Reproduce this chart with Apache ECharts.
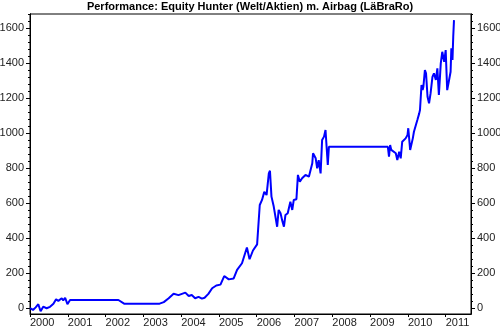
<!DOCTYPE html>
<html><head><meta charset="utf-8">
<script src="https://cdn.jsdelivr.net/npm/echarts@6/dist/echarts.min.js"></script>
<style>html,body{margin:0;padding:0;background:#fff}#c{width:500px;height:333px}</style>
</head><body><div id="c"></div>
<script>
const title = "Performance: Equity Hunter (Welt/Aktien) m. Airbag (LäBraRo)";
const years = [2000.00,2000.08,2000.15,2000.22,2000.28,2000.35,2000.40,2000.44,2000.53,2000.62,2000.69,2000.75,2000.84,2000.88,2000.93,2000.99,2001.06,2002.34,2002.49,2003.43,2003.54,2003.67,2003.80,2003.93,2004.11,2004.20,2004.28,2004.37,2004.46,2004.55,2004.62,2004.72,2004.82,2004.93,2005.04,2005.14,2005.26,2005.39,2005.48,2005.61,2005.74,2005.81,2005.90,2006.01,2006.08,2006.14,2006.20,2006.26,2006.32,2006.35,2006.39,2006.45,2006.54,2006.58,2006.63,2006.67,2006.72,2006.76,2006.82,2006.89,2006.94,2006.98,2007.05,2007.09,2007.14,2007.20,2007.29,2007.33,2007.38,2007.47,2007.49,2007.56,2007.60,2007.64,2007.69,2007.73,2007.78,2007.82,2007.85,2007.88,2007.91,2009.47,2009.50,2009.53,2009.56,2009.61,2009.68,2009.72,2009.77,2009.81,2009.85,2009.90,2009.94,2009.99,2010.01,2010.06,2010.09,2010.13,2010.16,2010.21,2010.25,2010.30,2010.32,2010.36,2010.39,2010.41,2010.45,2010.48,2010.52,2010.56,2010.60,2010.65,2010.69,2010.74,2010.78,2010.82,2010.87,2010.91,2010.96,2011.00,2011.04,2011.09,2011.13,2011.15,2011.18,2011.20,2011.22];
const values = [0,-10,5,23,-17,9,2,0,8,25,51,42,57,45,60,23,47,47,26,26,35,57,83,75,89,70,76,57,65,55,60,82,114,130,135,184,165,170,219,257,347,280,330,365,590,619,666,647,771,786,638,581,466,562,543,505,466,533,543,609,562,619,623,762,723,743,762,771,752,829,886,857,800,847,771,962,981,1019,1009,819,923,923,866,933,905,914,886,847,895,857,952,943,971,990,1029,905,895,971,1009,1000,1076,1114,1133,1276,1247,1266,1362,1343,1209,1171,1228,1323,1343,1305,1371,1219,1400,1466,1409,1476,1247,1305,1352,1486,1419,1552,1647];
const yTicks = [0,200,400,600,800,1000,1200,1400,1600];
const yMinorTicks = [40,80,120,160,240,280,320,360,440,480,520,560,640,680,720,760,840,880,920,960,1040,1080,1120,1160,1240,1280,1320,1360,1440,1480,1520,1560,1640,1680];

const data = years.map((y, i) => [y, values[i]]);
const font = "'Liberation Sans', Arial, sans-serif";
const YMIN = -33, YMAX = 1682;
function yAx(pos, major) {
  return {
    type: 'value', position: pos, min: YMIN, max: YMAX,
    splitLine: { show: false },
    axisLine: { show: true, onZero: false, lineStyle: { color: '#000', width: 1 } },
    axisTick: { show: true, length: major ? 4 : 2, customValues: major ? yTicks : yMinorTicks, lineStyle: { color: '#000' } },
    axisLabel: major ? { show: true, customValues: yTicks, formatter: v => String(v), margin: 6, color: '#222', fontSize: 11, fontFamily: font } : { show: false }
  };
}
const chart = echarts.init(document.getElementById('c'), null, { renderer: 'canvas' });
chart.setOption({
  animation: false,
  backgroundColor: '#fff',
  title: { text: title, left: 'center', top: 1, padding: 0, textStyle: { fontSize: 11, fontWeight: 'bold', color: '#000', fontFamily: font } },
  grid: { left: 30, right: 29, top: 14, bottom: 19, show: true, borderColor: '#000', borderWidth: 1, containLabel: false, outerBoundsMode: 'none' },
  xAxis: {
    type: 'value', min: 2000, max: 2011.67, interval: 1,
    splitLine: { show: false },
    axisLine: { onZero: false, lineStyle: { color: '#000' } },
    axisTick: { length: 3, lineStyle: { color: '#000' } },
    axisLabel: { formatter: v => String(Math.round(v)), align: 'left', margin: 3, color: '#222', fontSize: 11, fontFamily: font, showMaxLabel: false }
  },
  yAxis: [yAx('left', true), yAx('left', false), yAx('right', true), yAx('right', false)],
  series: [{
    type: 'line', data: data, yAxisIndex: 0, showSymbol: false, symbol: 'none',
    lineStyle: { color: '#0000ff', width: 2 }
  }]
});
</script></body></html>
